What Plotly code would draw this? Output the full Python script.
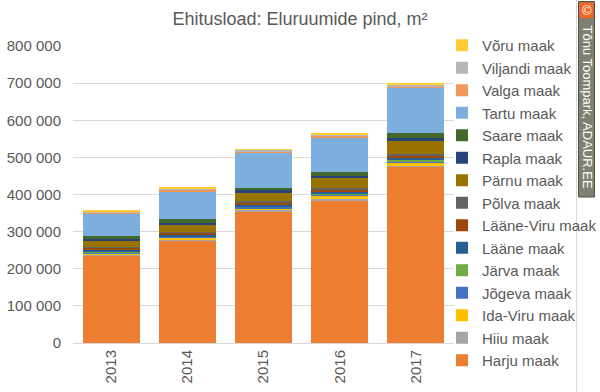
import plotly.graph_objects as go

years = ["2013", "2014", "2015", "2016", "2017"]

counties = ["Harju maak", "Hiiu maak", "Ida-Viru maak", "Jõgeva maak", "Järva maak",
            "Lääne maak", "Lääne-Viru maak", "Põlva maak", "Pärnu maak", "Rapla maak",
            "Saare maak", "Tartu maak", "Valga maak", "Viljandi maak", "Võru maak"]

harju = [237000, 276000, 355000, 385000, 476000]
hiiu = [1000, 1000, 2000, 3000, 2000]
ida_viru = [4000, 6000, 6000, 8000, 9000]
jogeva = [3000, 3000, 4000, 4000, 3000]
jarva = [2000, 2000, 2000, 2000, 3000]
laane = [4000, 4000, 4000, 4000, 4000]
laane_viru = [5000, 5000, 6000, 8000, 9000]
polva = [2000, 3000, 3000, 3000, 4000]
parnu = [16000, 18000, 22000, 27000, 34000]
rapla = [7000, 6000, 7000, 7000, 8000]
saare = [8000, 10000, 7000, 10000, 15000]
tartu = [60000, 74000, 94000, 93000, 120000]
valga = [3000, 5000, 5000, 4000, 3000]
viljandi = [3000, 4000, 3000, 4000, 5000]
voru = [2000, 3000, 2000, 4000, 5000]

series = [harju, hiiu, ida_viru, jogeva, jarva, laane, laane_viru, polva, parnu,
          rapla, saare, tartu, valga, viljandi, voru]

colors = ["#ED7D31", "#A5A5A5", "#FFC000", "#4472C4", "#70AD47", "#255E91", "#9E480E",
          "#636363", "#997300", "#264478", "#43682B", "#7CAFDD", "#F1975A", "#B7B7B7",
          "#FFCD33"]

FONT = "Liberation Sans"
TXT = "#595959"

fig = go.Figure()
for name, vals, col in zip(counties, series, colors):
    fig.add_trace(go.Bar(x=years, y=vals, name=name, marker_color=col,
                         marker_line_width=0, legendgroup=name))

W, H = 600, 392
L, R, T, B = 73, 146, 46, 49
pw, ph = W - L - R, H - T - B


def px(x):
    return (x - L) / pw


def py(y):
    return (H - B - y) / ph


shapes = [
    dict(type="rect", xref="paper", yref="paper", x0=px(578.5), x1=px(594.5), y0=py(1.5), y1=py(197),
         fillcolor="#808070", line=dict(color="#505048", width=1), layer="above"),
    dict(type="rect", xref="paper", yref="paper", x0=px(579.5), x1=px(593.5), y0=py(2.5), y1=py(18),
         fillcolor="#F26522", line=dict(width=0), layer="above"),
    dict(type="line", xref="paper", yref="paper", x0=px(576.5), x1=px(576.5), y0=py(0), y1=py(392),
         line=dict(color="#D9D9D9", width=1), layer="below"),
]

annotations = [
    dict(text="©", xref="paper", yref="paper", x=px(586.5), y=py(10.5), showarrow=False,
         font=dict(family=FONT, size=13, color="white"), xanchor="center", yanchor="middle"),
    dict(text="Tõnu Toompark, ADAUR.EE", xref="paper", yref="paper", x=px(586.5), y=py(107),
         showarrow=False, textangle=90, font=dict(family=FONT, size=13, color="white"),
         xanchor="center", yanchor="middle"),
]

fig.update_layout(
    width=W, height=H,
    margin=dict(l=L, r=R, t=T, b=B, autoexpand=False),
    paper_bgcolor="white", plot_bgcolor="white",
    barmode="stack", bargap=0.25,
    separators=", ",
    font=dict(family=FONT, size=15, color=TXT),
    title=dict(text="Ehitusload: Eluruumide pind, m²", x=0.5, xanchor="center", xref="container",
               y=1 - 19 / H, yanchor="middle", yref="container",
               font=dict(family=FONT, size=18, color=TXT)),
    legend=dict(traceorder="reversed", x=px(442), xanchor="left", y=py(29), yanchor="top",
                font=dict(family=FONT, size=15, color=TXT), bgcolor="rgba(0,0,0,0)",
                tracegroupgap=0),
    xaxis=dict(tickangle=-90, showline=True, linecolor="#D9D9D9", linewidth=1,
               ticks="", tickfont=dict(size=15, color=TXT)),
    yaxis=dict(range=[0, 800000], dtick=100000, tickformat=",d", showgrid=True,
               gridcolor="#D9D9D9", gridwidth=1, zeroline=False, ticks="outside",
               ticklen=8, tickcolor="rgba(0,0,0,0)", tickfont=dict(size=15, color=TXT)),
    shapes=shapes, annotations=annotations,
)

try:
    fig.update_layout(legend_maxheight=420)
except Exception:
    pass

fig.write_html("out.html", config={"displayModeBar": False},
               post_script="document.body.style.margin='0';document.body.style.padding='0';")
